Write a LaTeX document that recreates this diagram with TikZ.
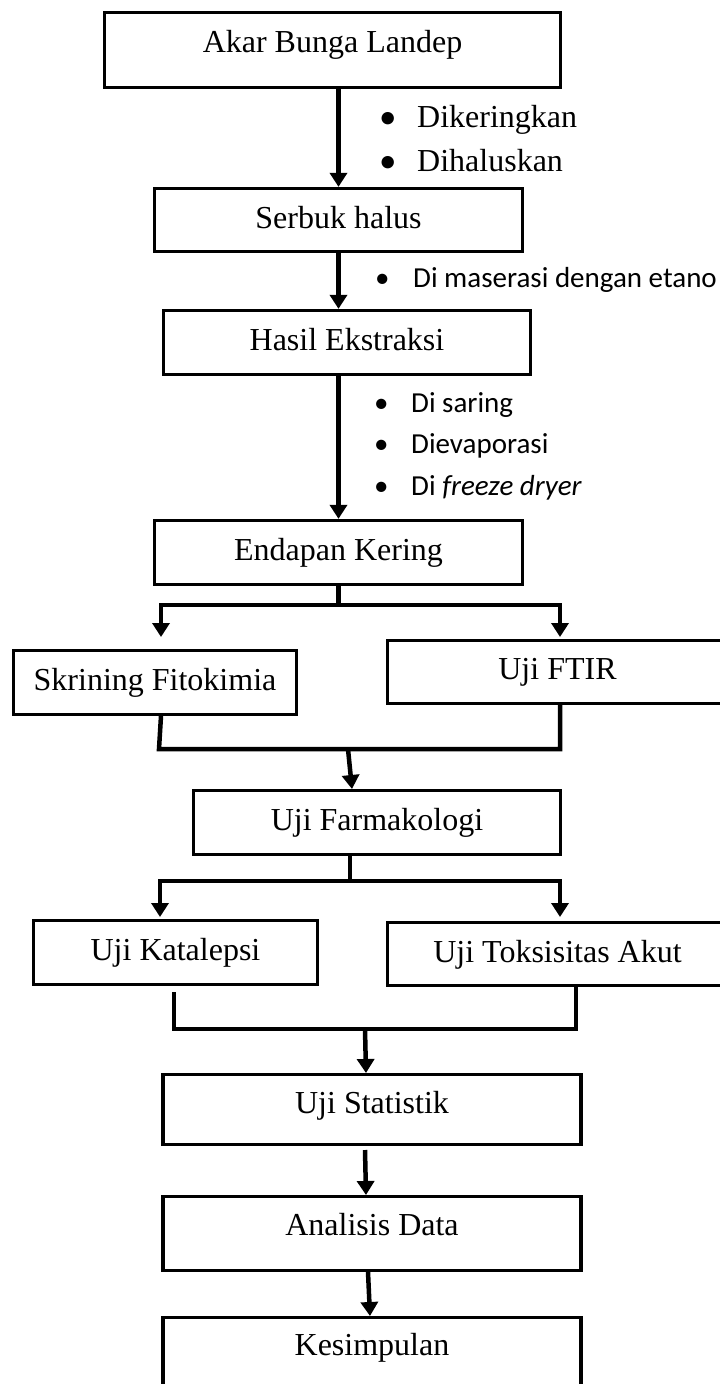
\documentclass[tikz,border=0pt]{standalone}
\usepackage{fontspec}
\setmainfont{Liberation Serif}
\newfontfamily\calfont{Carlito}
\usetikzlibrary{arrows.meta}
\newcommand{\bigbul}{\makebox[37.5pt][l]{\hspace*{-0.5pt}\raisebox{-1.5pt}{\calfont\fontsize{35pt}{40pt}\selectfont •}}}
\tikzset{
  boxnode/.style={draw, line width=3.3pt, rectangle, inner sep=0pt, font=\fontsize{32pt}{38pt}\selectfont},
  conn/.style={line width=4.5pt, line join=miter},
  arr/.style={conn, -{Triangle[width=17pt,length=14pt]}},
  bultimes/.style={anchor=base west, inner sep=0pt, font=\fontsize{32pt}{38pt}\selectfont},
  bulcal/.style={anchor=base west, inner sep=0pt, font=\calfont\fontsize{29pt}{35pt}\selectfont},
}
\begin{document}
\begin{tikzpicture}[x=1pt,y=-1pt]
\useasboundingbox (0,0) rectangle (720,1384);
\clip (0,0) rectangle (720,1384);

% boxes
\node[boxnode, minimum width=456pt, minimum height=75pt, text height=17pt, text depth=13pt] (b1) at (332.5,50) {Akar Bunga Landep};
\node[boxnode, minimum width=368pt, minimum height=63pt, text height=23pt, text depth=7pt] (b2) at (338.5,220) {Serbuk halus};
\node[boxnode, minimum width=367pt, minimum height=64pt, text height=22.5pt, text depth=7.5pt] (b3) at (347,342.5) {Hasil Ekstraksi};
\node[boxnode, minimum width=368pt, minimum height=64pt, text height=22.5pt, text depth=7.5pt] (b4) at (338.5,552.5) {Endapan Kering};
\node[boxnode, minimum width=283pt, minimum height=64pt, text height=22.5pt, text depth=7.5pt] (b5) at (155,682.5) {Skrining Fitokimia};
\node[boxnode, minimum width=340pt, minimum height=63pt, text height=22pt, text depth=8pt] (b6) at (557.5,672) {Uji FTIR};
\node[boxnode, minimum width=367pt, minimum height=64pt, text height=22.5pt, text depth=7.5pt] (b7) at (377,822.5) {Uji Farmakologi};
\node[boxnode, minimum width=284pt, minimum height=64pt, text height=22.5pt, text depth=7.5pt] (b8) at (175.5,952.5) {Uji Katalepsi};
\node[boxnode, minimum width=340pt, minimum height=63pt, text height=23pt, text depth=7pt] (b9) at (557.5,954) {Uji Toksisitas Akut};
\node[boxnode, minimum width=418pt, minimum height=70pt, text height=18.5pt, text depth=11.5pt] (b10) at (372,1109.5) {Uji Statistik};
\node[boxnode, minimum width=418pt, minimum height=74pt, text height=16.5pt, text depth=13.5pt] (b11) at (372,1233.5) {Analisis Data};
\node[boxnode, minimum width=418pt, minimum height=74pt, text height=15.5pt, text depth=14.5pt] (b12) at (372,1354.5) {Kesimpulan};

% bullet notes
\node[bultimes] (l1) at (379.5,127) {\bigbul Dikeringkan};
\node[bultimes] (l2) at (379.5,171) {\bigbul Dihaluskan};
\node[bulcal] (l3) at (375,287) {\makebox[38pt][l]{•}Di maserasi dengan etano};
\node[bulcal] (l4) at (374,412) {\makebox[37pt][l]{•}Di saring};
\node[bulcal] (l5) at (374,453) {\makebox[37pt][l]{•}Dievaporasi};
\node[bulcal] (l6) at (374,495) {\makebox[37pt][l]{•}Di \textit{freeze dryer}};

% straight arrows
\draw[arr] (b2.north |- b1.south) -- (b2.north);
\draw[arr] (b2.south) -- (b2.south |- b3.north);
\draw[arr] (b4.north |- b3.south) -- (b4.north);

% branch 1
\coordinate (j1) at (338.5,605);
\coordinate (t1l) at (161,637);
\coordinate (t1r) at (560,637);
\draw[conn] (b4.south) -- (j1);
\draw[arr] (j1) -| (t1l);
\draw[arr] (j1) -| (t1r);

% merge 1
\coordinate (s5) at (161,716);
\coordinate (m1l) at (159,749);
\coordinate (m1r) at (560,749);
\draw[conn] (s5) -- (m1l) -- (m1r) -- (b6.south -| m1r);
\coordinate (m1c) at (348,749);
\coordinate (e7) at (352,789);
\draw[arr] (m1c) -- (e7);

% branch 2
\coordinate (j2) at (350,881);
\coordinate (t2l) at (160,917);
\coordinate (t2r) at (560,917);
\draw[conn] (b7.south -| j2) -- (j2);
\draw[arr] (j2) -| (t2l);
\draw[arr] (j2) -| (t2r);

% merge 2
\coordinate (s8) at (174,992);
\coordinate (m2l) at (174,1029);
\coordinate (m2r) at (576,1029);
\draw[conn] (s8) -- (m2l) -- (m2r) -- (b9.south -| m2r);
\coordinate (m2c) at (365,1029);
\coordinate (e10) at (366,1073);
\draw[arr] (m2c) -- (e10);

% lower chain
\coordinate (s10) at (365,1150);
\coordinate (e11) at (366,1195);
\draw[arr] (s10) -- (e11);
\coordinate (s11) at (368,1272);
\coordinate (e12) at (370,1316);
\draw[arr] (s11) -- (e12);
\end{tikzpicture}
\end{document}
